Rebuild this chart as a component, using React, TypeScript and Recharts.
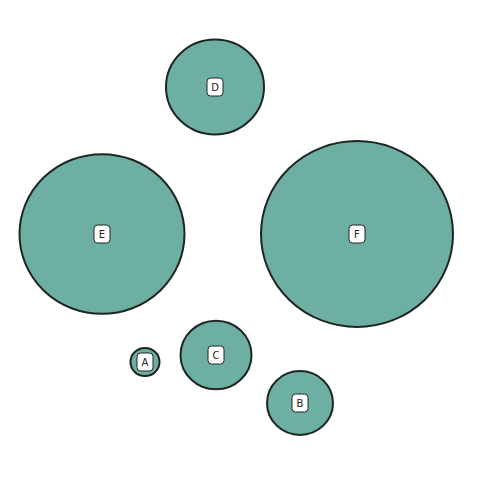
import React from 'react';
import { ScatterChart, Scatter, XAxis, YAxis, ZAxis } from 'recharts';

const names = ['D', 'E', 'F', 'C', 'A', 'B'];
const xs = [215, 102, 357, 216, 145, 300];
const ys = [87, 234, 234, 355, 362, 403];
const values = [2401, 6806, 9216, 1260, 210, 1089];

const data = names.map((n, i) => ({ name: n, x: xs[i], y: ys[i], v: values[i] }));

const Bubble = (props: any) => {
  const { cx, cy, width, payload } = props;
  const rx = width / 2;
  const ry = rx * 0.968;
  return (
    <g>
      <ellipse cx={cx} cy={cy} rx={rx} ry={ry} fill="#6db0a3" stroke="#1e2624" strokeWidth={2} />
      <rect x={cx - 8} y={cy - 9} width={16} height={18} rx={3.5} ry={3.5} fill="#ffffff" stroke="#222" strokeWidth={1} />
      <text x={cx} y={cy + 3.5} textAnchor="middle" fontSize={10} fontFamily="DejaVu Sans, sans-serif" fill="#222">
        {payload.name}
      </text>
    </g>
  );
};

export default function App() {
  return (
    <div style={{ position: 'absolute', left: 0, top: 0, background: '#fff' }}>
      <ScatterChart width={480} height={480} margin={{ top: 0, right: 0, bottom: 0, left: 0 }}>
        <XAxis type="number" dataKey="x" domain={[0, 480]} hide />
        <YAxis type="number" dataKey="y" domain={[0, 480]} reversed hide />
        <ZAxis type="number" dataKey="v" domain={[0, 10000]} range={[0, Math.PI * 10000]} />
        <Scatter data={data} shape={<Bubble />} isAnimationActive={false} />
      </ScatterChart>
    </div>
  );
}
